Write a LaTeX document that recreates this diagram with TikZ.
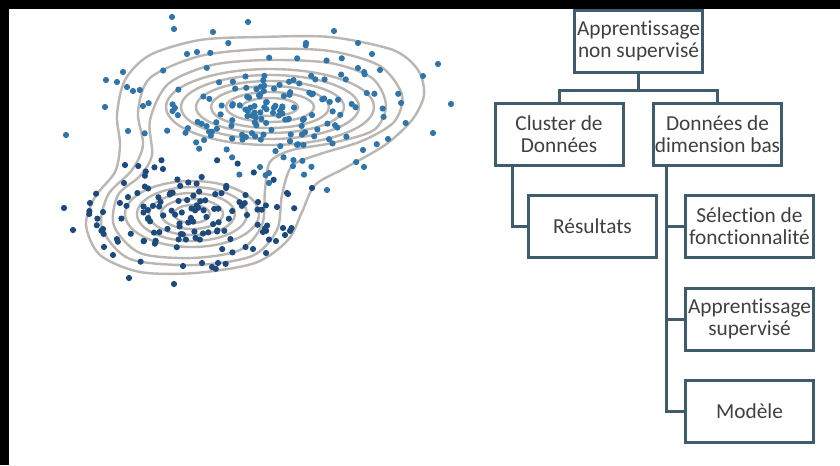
\documentclass[tikz,border=0pt]{standalone}
\usepackage{fontspec}
\setmainfont{Carlito}[Ligatures=NoCommon]
\usepackage{tikz}
\usepackage{color}

\definecolor{cadre}{RGB}{62,92,108}
\definecolor{texte}{RGB}{64,64,64}
\definecolor{courbe}{RGB}{186,182,178}
\definecolor{pointhaut}{RGB}{47,117,170}
\definecolor{pointbas}{RGB}{28,74,125}

\tikzset{
  boite/.style={draw=cadre, line width=2.25pt, fill=white, text=texte, align=center, inner sep=0pt, minimum width=96pt, minimum height=46.5pt, font=\fontsize{16}{16.5}\selectfont},
  lien/.style={draw=cadre, line width=2.25pt},
  niveau/.style={draw=courbe, line width=1.8pt},
}

\begin{document}
\begin{tikzpicture}[x=0.75pt,y=0.75pt,yscale=-1,xscale=1]
\fill[white] (0,0) rectangle (840,465);
\useasboundingbox (0,0) rectangle (840,465);
%set diagram frame
\fill[black] (0,0) rectangle (840,9);
\fill[black] (0,0) rectangle (9,465);

%Curve Lines [peanut outer]
\draw[niveau] plot[smooth cycle] coordinates {(260,37) (330,37) (393,50) (418,70) (424,95) (412,120) (385,145) (345,168) (315,185) (302,212) (288,240) (255,263) (195,273) (140,272) (100,255) (86,225) (95,197) (115,172) (120,145) (117,115) (125,80) (150,55) (200,40)};
%Curve Lines [peanut middle]
\draw[niveau] plot[smooth cycle] coordinates {(265,49) (330,51) (380,66) (402,95) (394,122) (362,141) (320,154) (292,166) (282,195) (277,230) (252,256) (195,265) (130,259) (102,228) (108,195) (132,170) (143,145) (138,112) (150,78) (200,56)};
%Curve Lines [peanut inner]
\draw[niveau] plot[smooth cycle] coordinates {(268,60) (330,63) (372,78) (386,105) (374,130) (332,143) (292,150) (270,162) (265,190) (262,225) (240,250) (192,258) (140,253) (114,226) (118,195) (140,176) (152,155) (150,120) (168,84) (212,65)};

%Shape: Ellipse [upper cluster]
\draw[niveau] (270,107) ellipse [x radius=104, y radius=38];
\draw[niveau] (270,107) ellipse [x radius=89, y radius=32];
\draw[niveau] (270,107) ellipse [x radius=74, y radius=26];
\draw[niveau] (270,107) ellipse [x radius=59, y radius=21];
\draw[niveau] (270,107) ellipse [x radius=44, y radius=15];
\draw[niveau] (270,107) ellipse [x radius=28, y radius=9];
%Shape: Ellipse [lower cluster]
\draw[niveau] (192,214) ellipse [x radius=67, y radius=33];
\draw[niveau] (192,214) ellipse [x radius=55, y radius=27];
\draw[niveau] (192,214) ellipse [x radius=43, y radius=21];
\draw[niveau] (192,214) ellipse [x radius=31, y radius=15];
\draw[niveau] (192,214) ellipse [x radius=18, y radius=9];

%Points [upper cluster]
\pgfmathsetseed{42}
\foreach \i in {1,...,160}{
  \pgfmathsetmacro\rr{sqrt(-2*ln(max(rnd,0.05)))}
  \pgfmathsetmacro\aa{360*rnd}
  \fill[pointhaut] ({272+56*\rr*cos(\aa)},{108+28*\rr*sin(\aa)}) circle (3.1);
}
%Points [lower cluster]
\foreach \i in {1,...,120}{
  \pgfmathsetmacro\rr{sqrt(-2*ln(max(rnd,0.05)))}
  \pgfmathsetmacro\aa{360*rnd}
  \fill[pointbas] ({192+42*\rr*cos(\aa)},{214+23*\rr*sin(\aa)}) circle (3.1);
}
%Points [outliers]
\foreach \p in {(172,17),(174,29),(248,22),(213,32),(334,31),(306,43),(358,43),(372,54),(187,54),(197,52),(123,72),(106,80),(117,82),(127,87),(133,91),(105,107),(143,106),(66,135),(128,131),(423,76),(438,64),(451,104),(433,133),(388,139),(363,150),(364,167),(380,70),(358,68),(327,190),(269,183),(269,173),(260,167)}
  \fill[pointhaut] \p circle (3.1);
\foreach \p in {(312,188),(287,193),(64,208),(73,230),(90,203),(103,212),(125,165),(124,183),(103,229),(104,247),(113,255),(129,278),(174,284),(183,266),(202,263),(212,267),(218,263),(253,249),(276,241),(285,235),(283,228),(263,232),(288,194),(277,207),(258,202),(247,215)}
  \fill[pointbas] \p circle (3.1);

% Text Node
\node[boite] (racine) at (638.5,41) {Apprentissage\\non supervisé};
% Text Node
\node[boite] (cluster) at (559,134) {Cluster de\\Données};
% Text Node
\node[boite] (donnees) at (717.5,134) {Données de\\dimension bas};
% Text Node
\node[boite] (resultats) at (592.5,226.5) {Résultats};
% Text Node
\node[boite] (selection) at (749.5,226.5) {Sélection de\\fonctionnalité};
% Text Node
\node[boite] (supervise) at (749.5,319) {Apprentissage\\supervisé};
% Text Node
\node[boite] (modele) at (749.5,411) {Modèle};

%Straight Lines
\draw[lien] (racine.south) -- ++(0,17) -| (cluster.north);
\draw[lien] (racine.south) -- ++(0,17) -| (donnees.north);
%Straight Lines
\draw[lien] ([xshift=14.25pt]cluster.south west) |- (resultats.west);
%Straight Lines
\draw[lien] ([xshift=10.5pt]donnees.south west) |- (selection.west);
\draw[lien] ([xshift=10.5pt]donnees.south west) |- (supervise.west);
\draw[lien] ([xshift=10.5pt]donnees.south west) |- (modele.west);

\end{tikzpicture}
\end{document}
